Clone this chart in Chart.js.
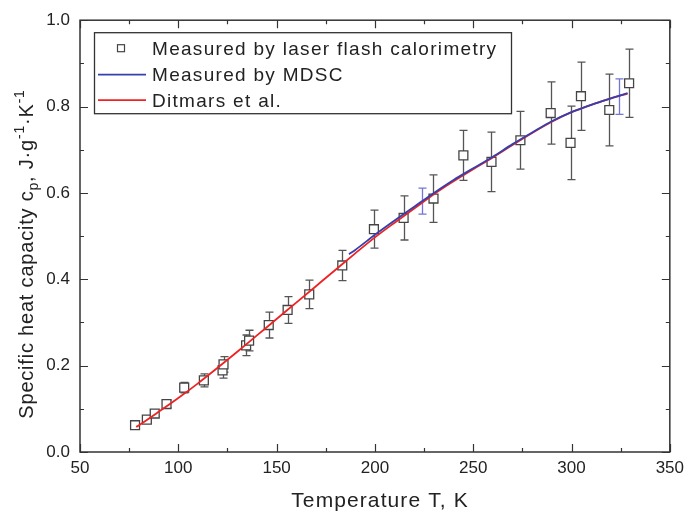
<!DOCTYPE html>
<html>
<head>
<meta charset="utf-8">
<script src="https://cdn.jsdelivr.net/npm/chart.js@4"></script>
<style>
  html, body { margin: 0; padding: 0; background: #fff; }
</style>
</head>
<body>
<canvas id="myChart" width="690" height="514"></canvas>
<script>
'use strict';

// Measured by laser flash calorimetry (T in K, cp in J/g/K, error bar half-height)
const laserT   = [78, 84, 88, 94, 103, 113, 122.5, 123, 134.5, 136, 146, 155.6, 166.6, 183.4, 199.5, 214.6, 229.8, 245, 259.3, 274, 289.4, 299.5, 304.8, 319.2, 329.3];
const laserCp  = [0.062, 0.075, 0.089, 0.111, 0.149, 0.166, 0.189, 0.203, 0.247, 0.258, 0.294, 0.329, 0.365, 0.432, 0.516, 0.542, 0.587, 0.687, 0.672, 0.722, 0.785, 0.716, 0.824, 0.792, 0.854];
const laserErr = [0.006, 0.006, 0.007, 0.009, 0.012, 0.015, 0.018, 0.018, 0.024, 0.024, 0.030, 0.031, 0.033, 0.035, 0.044, 0.051, 0.055, 0.058, 0.069, 0.067, 0.072, 0.085, 0.079, 0.083, 0.079];

// Measured by MDSC
const mdscT  = [186.8, 190, 200, 210, 220, 230, 240, 250, 260, 270, 280, 290, 300, 310, 320, 328.5];
const mdscCp = [0.458, 0.468, 0.503, 0.536, 0.568, 0.600, 0.630, 0.657, 0.684, 0.713, 0.740, 0.766, 0.787, 0.804, 0.819, 0.831];
const mdscErrT  = [223.9, 323.9];
const mdscErrCp = [0.581, 0.823];
const mdscErr   = [0.030, 0.041];

// Ditmars et al.
const ditT  = [78.6, 80, 90, 100, 110, 120, 130, 140, 150, 160, 170, 180, 190, 200, 210, 220, 230, 240, 250, 260, 270, 280, 290, 300, 310, 320, 328.5];
const ditCp = [0.058, 0.062, 0.093, 0.125, 0.159, 0.195, 0.232, 0.270, 0.308, 0.346, 0.384, 0.422, 0.460, 0.497, 0.531, 0.564, 0.597, 0.627, 0.655, 0.682, 0.711, 0.739, 0.765, 0.787, 0.804, 0.819, 0.830];

const xTicks = [50, 100, 150, 200, 250, 300, 350];
const yTicks = [0.0, 0.2, 0.4, 0.6, 0.8, 1.0];

const FONT = "'Liberation Sans', Arial, sans-serif";
const INK = '#333';
const RED = '#ee2222';
const BLUE = '#3440b0';
const BLUE_ERR = '#7276d4';

const pts = (xs, ys) => xs.map((v, i) => ({ x: v, y: ys[i] }));

// axes frame, inward ticks, error bars, legend and axis titles
const decorations = {
    id: 'decorations',
    beforeDatasetsDraw(chart) {
        const { ctx, scales: { x, y } } = chart;
        ctx.save();
        const bars = (ts, cs, es, color) => {
            ctx.strokeStyle = color;
            ctx.lineWidth = 1.3;
            ts.forEach((t, i) => {
                const px = Math.round(x.getPixelForValue(t)) + 0.5;
                const top = y.getPixelForValue(cs[i] + es[i]);
                const bot = y.getPixelForValue(cs[i] - es[i]);
                ctx.beginPath();
                ctx.moveTo(px, top); ctx.lineTo(px, bot);
                ctx.moveTo(px - 4, top); ctx.lineTo(px + 4, top);
                ctx.moveTo(px - 4, bot); ctx.lineTo(px + 4, bot);
                ctx.stroke();
            });
        };
        bars(laserT, laserCp, laserErr, '#555');
        bars(mdscErrT, mdscErrCp, mdscErr, BLUE_ERR);
        ctx.restore();
    },
    afterDraw(chart) {
        const { ctx, chartArea: a, scales: { x, y } } = chart;
        ctx.save();
        ctx.strokeStyle = INK;
        ctx.lineWidth = 1.5;
        ctx.strokeRect(a.left, a.top, a.right - a.left, a.bottom - a.top);

        // ticks on all four sides, pointing inward
        ctx.lineWidth = 1.2;
        ctx.beginPath();
        for (let v = 50; v <= 350; v += 25) {
            const px = Math.round(x.getPixelForValue(v)) + 0.5;
            const len = v % 50 === 0 ? 8 : 4;
            ctx.moveTo(px, a.bottom); ctx.lineTo(px, a.bottom - len);
            ctx.moveTo(px, a.top); ctx.lineTo(px, a.top + len);
        }
        for (let k = 0; k <= 10; k++) {
            const py = Math.round(y.getPixelForValue(k / 10)) + 0.5;
            const len = k % 2 === 0 ? 8 : 4;
            ctx.moveTo(a.left, py); ctx.lineTo(a.left + len, py);
            ctx.moveTo(a.right, py); ctx.lineTo(a.right - len, py);
        }
        ctx.stroke();

        // legend
        const lx = a.left + 14, ly = a.top + 12;
        ctx.lineWidth = 1.3;
        ctx.strokeStyle = INK;
        ctx.strokeRect(lx + 0.5, ly + 0.5, 417, 81);
        ctx.strokeStyle = '#444';
        ctx.lineWidth = 1.2;
        ctx.strokeRect(lx + 23.5, ly + 12.5, 7, 7);
        ctx.lineWidth = 1.8;
        ctx.strokeStyle = BLUE;
        ctx.beginPath(); ctx.moveTo(lx + 4, ly + 42.5); ctx.lineTo(lx + 52, ly + 42.5); ctx.stroke();
        ctx.strokeStyle = RED;
        ctx.beginPath(); ctx.moveTo(lx + 4, ly + 68); ctx.lineTo(lx + 52, ly + 68); ctx.stroke();
        ctx.fillStyle = '#222';
        ctx.font = '19px ' + FONT;
        ctx.letterSpacing = '1.3px';
        ctx.textBaseline = 'alphabetic';
        ctx.textAlign = 'left';
        ctx.fillText('Measured by laser flash calorimetry', lx + 58, ly + 23);
        ctx.fillText('Measured by MDSC', lx + 58, ly + 49);
        ctx.fillText('Ditmars et al.', lx + 58, ly + 75);

        // x axis title
        ctx.font = '21px ' + FONT;
        ctx.letterSpacing = '1.1px';
        ctx.textAlign = 'center';
        ctx.fillText('Temperature T, K', 380, 507);

        // y axis title with subscript and superscripts
        const parts = [
            ['Specific heat capacity c', 20, 0],
            ['p', 14, 5],
            [', J\u00b7g', 20, 0],
            ['-1', 14, -9],
            ['\u00b7K', 20, 0],
            ['-1', 14, -9]
        ];
        ctx.letterSpacing = '0.8px';
        ctx.textAlign = 'left';
        let total = 0;
        const widths = parts.map(([s, size]) => {
            ctx.font = size + 'px ' + FONT;
            const w = ctx.measureText(s).width;
            total += w;
            return w;
        });
        ctx.translate(33, 254);
        ctx.rotate(-Math.PI / 2);
        let cx = -total / 2;
        parts.forEach(([s, size, dy], i) => {
            ctx.font = size + 'px ' + FONT;
            ctx.fillText(s, cx, dy);
            cx += widths[i];
        });
        ctx.restore();
    }
};

Chart.defaults.font.family = FONT;
Chart.defaults.color = '#222';

const ctx = document.getElementById('myChart');

new Chart(ctx, {
    type: 'line',
    data: {
        datasets: [
            {
                label: 'Measured by laser flash calorimetry',
                data: pts(laserT, laserCp),
                order: 3,
                showLine: false,
                pointStyle: 'rect',
                pointRadius: 6.3,
                pointBorderWidth: 1.3,
                pointBorderColor: '#444',
                pointBackgroundColor: '#fff'
            },
            {
                label: 'Measured by MDSC',
                data: pts(mdscT, mdscCp),
                order: 1,
                borderColor: BLUE,
                borderWidth: 1.8,
                pointRadius: 0,
                cubicInterpolationMode: 'monotone'
            },
            {
                label: 'Ditmars et al.',
                data: pts(ditT, ditCp),
                order: 2,
                borderColor: RED,
                borderWidth: 1.8,
                pointRadius: 0,
                cubicInterpolationMode: 'monotone'
            }
        ]
    },
    options: {
        responsive: false,
        animation: false,
        layout: { padding: { left: 0, right: 17, top: 15, bottom: 0 } },
        plugins: {
            legend: { display: false },
            tooltip: { enabled: false }
        },
        scales: {
            x: {
                type: 'linear',
                min: 50,
                max: 350,
                afterFit(scale) { scale.height = 62; },
                afterBuildTicks(scale) { scale.ticks = xTicks.map(v => ({ value: v })); },
                grid: { display: false, drawTicks: false },
                border: { display: false },
                ticks: { font: { size: 17 }, padding: 6, maxRotation: 0 }
            },
            y: {
                min: 0,
                max: 1,
                afterFit(scale) { scale.width = 80; },
                afterBuildTicks(scale) { scale.ticks = yTicks.map(v => ({ value: v })); },
                grid: { display: false, drawTicks: false },
                border: { display: false },
                ticks: { font: { size: 17 }, padding: 10, callback: v => v.toFixed(1) }
            }
        }
    },
    plugins: [decorations]
});
</script>
</body>
</html>
